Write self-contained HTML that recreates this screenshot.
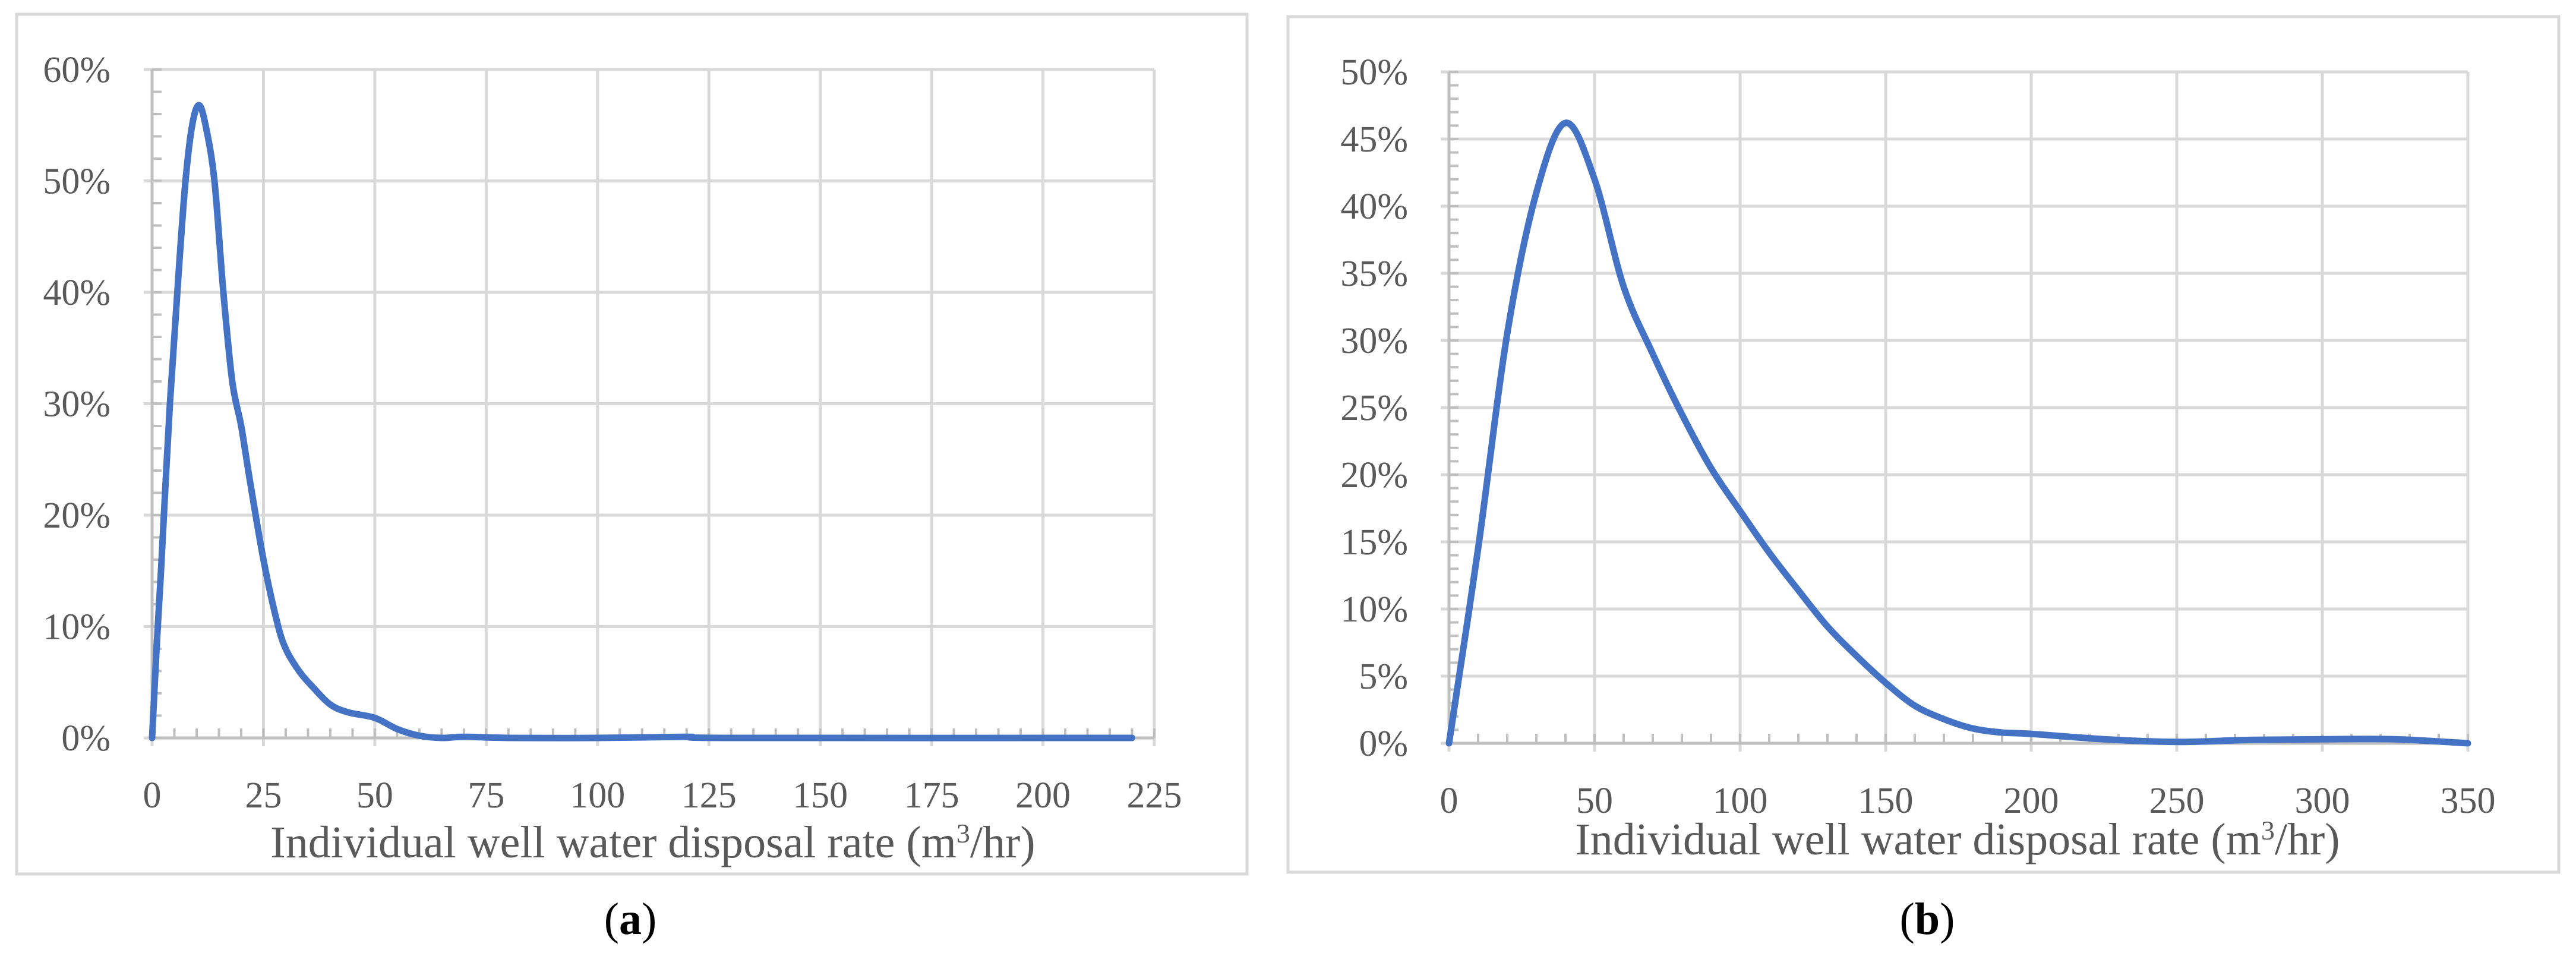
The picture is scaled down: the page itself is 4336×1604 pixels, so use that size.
<!DOCTYPE html>
<html><head><meta charset="utf-8"><style>
html,body{margin:0;padding:0;background:#fff;}
svg{display:block;font-family:"Liberation Serif",serif;}
</style></head><body>
<svg id="s" width="4336" height="1604" viewBox="0 0 4336 1604"></svg>
<script>
const aX=[0,1,2,4,6,7.5,9,10.5,12,14,16,18,20,22,25,28,30,33,36,40,44,50,55,60,65,70,80,100,120,130,220];
const aY=[0,8,15,30,42,50,55,56.8,55,50,40,32,28,23,16,10.5,8,6,4.6,3,2.3,1.8,0.8,0.2,0,0.1,0,0,0.1,0,0];
const aXTicks=[0,25,50,75,100,125,150,175,200,225];
const aYTicks=[0,10,20,30,40,50,60];
const bX=[0,10,20,30,40,50,60,70,80,90,100,110,120,130,140,150,160,170,180,190,200,225,250,275,300,325,350];
const bY=[0,14.5,30.5,41,46.2,42,34,29,24.5,20.5,17.3,14.2,11.4,8.7,6.5,4.5,2.8,1.8,1.1,0.8,0.7,0.3,0.1,0.25,0.3,0.3,0];
const bXTicks=[0,50,100,150,200,250,300,350];
const bYTicks=[0,5,10,15,20,25,30,35,40,45,50];
const NS="http://www.w3.org/2000/svg";
const svg=document.getElementById('s');
function el(t,a,p){const e=document.createElementNS(NS,t);for(const k in a)e.setAttribute(k,a[k]);(p||svg).appendChild(e);return e;}
function chart(o){
  const g=el('g',{});
  
  
  const fr=el('rect',{x:o.fx,y:o.fy,width:o.fw,height:o.fh,fill:'none',stroke:'#d9d9d9','stroke-width':5},g);
  
  
  const xs=v=>o.x0+(v-o.xmin)/(o.xmax-o.xmin)*(o.x1-o.x0);
  const ys=v=>o.y0-(v/o.ymax)*(o.y0-o.y1);
  o.xt.forEach(t=>{
    const l=el('line',{x1:xs(t),x2:xs(t),y1:o.y1,y2:o.y0+14,stroke:'#d9d9d9','stroke-width':5},g);
    
    
    const tx=el('text',{x:xs(t),y:o.y0+117,'text-anchor':'middle','font-size':62,fill:'#595959'},g);
    tx.textContent=t;
    
    
  });
  o.yt.forEach(t=>{
    const l=el('line',{x1:o.x0-14,x2:o.x1,y1:ys(t),y2:ys(t),stroke:'#d9d9d9','stroke-width':5},g);
    
    
    const tx=el('text',{x:o.lx,y:ys(t)+21,'text-anchor':'end','font-size':62,fill:'#595959'},g);
    tx.textContent=t+'%';
    
    
  });
  for(let v=o.xmin;v<=o.xmax;v+=o.xminor){
    el('line',{x1:xs(v),x2:xs(v),y1:o.y0,y2:o.y0-16,stroke:'#bfbfbf','stroke-width':4},g);
  }
  for(let v=0;v<=o.ymax;v+=o.yminor){
    el('line',{x1:o.x0,x2:o.x0+16,y1:ys(v),y2:ys(v),stroke:'#bfbfbf','stroke-width':4},g);
  }
  el('line',{x1:o.x0,x2:o.x1,y1:o.y0,y2:o.y0,stroke:'#bfbfbf','stroke-width':5},g);
  el('line',{x1:o.x0,x2:o.x0,y1:o.y0,y2:o.y1,stroke:'#bfbfbf','stroke-width':5},g);
  const P=o.X.map((x,i)=>[xs(x),ys(o.Y[i])]);
  let d='M'+P[0][0]+','+P[0][1];
  for(let i=0;i<P.length-1;i++){
    const p0=P[i-1]||P[i],p1=P[i],p2=P[i+1],p3=P[i+2]||P[i+1];
    const c1=[p1[0]+(p2[0]-p0[0])/6,p1[1]+(p2[1]-p0[1])/6];
    const c2=[p2[0]-(p3[0]-p1[0])/6,p2[1]-(p3[1]-p1[1])/6];
    d+=' C'+c1+' '+c2+' '+p2;
  }
  const line=el('path',{d:d,fill:'none',stroke:'#4472c4','stroke-width':11,'stroke-linejoin':'round','stroke-linecap':'round'},g);
  
  
  const t=el('text',{x:o.tx,y:o.ty,'text-anchor':'middle','font-size':76,fill:'#595959'},g);
  t.innerHTML='Individual well water disposal rate (m<tspan baseline-shift="super" font-size="46">3</tspan>/hr)';
  
  
  const c=el('text',{x:o.cx,y:1572,'text-anchor':'middle','font-size':76,fill:'#000'},g);
  c.innerHTML='(<tspan font-weight="bold">'+o.cap+'</tspan>)';
  
  
}
chart({name:'chart-a',fx:28,fy:24,fw:2071,fh:1447,x0:256,x1:1943,y0:1242,y1:117,xmin:0,xmax:225,ymax:60,
  xt:aXTicks,yt:aYTicks,xminor:5,yminor:2,X:aX,Y:aY,lx:186,tx:1099,ty:1443,cx:1061,cap:'a'});
chart({name:'chart-b',fx:2168,fy:28,fw:2139,fh:1440,x0:2439,x1:4154,y0:1251,y1:121,xmin:0,xmax:350,ymax:50,
  xt:bXTicks,yt:bYTicks,xminor:10,yminor:1,X:bX,Y:bY,lx:2370,tx:3295,ty:1438,cx:3244,cap:'b'});
</script>
</body></html>
